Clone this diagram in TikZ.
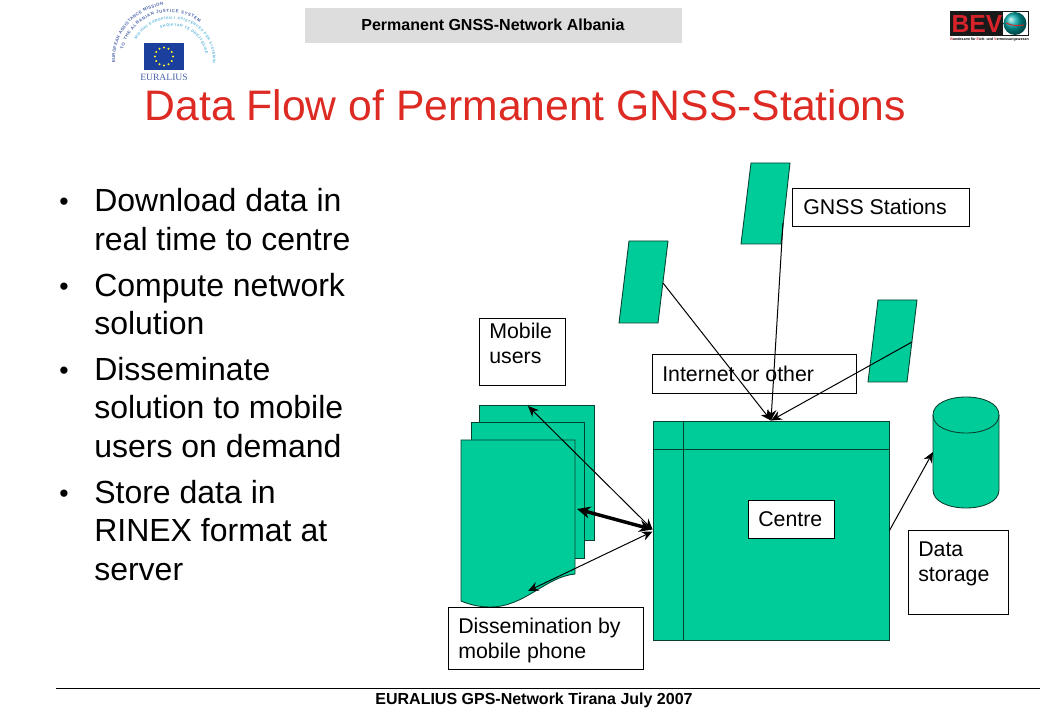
\documentclass[tikz,border=0pt]{standalone}
\usepackage{fontspec}
\setmainfont{Liberation Sans}
\setsansfont{Liberation Sans}
\newfontfamily\logoserif{Liberation Serif}
\usetikzlibrary{arrows.meta,decorations.text,shapes.geometric}
\definecolor{shapegreen}{HTML}{00CC99}
\definecolor{edgegreen}{HTML}{06402F}
\definecolor{titlered}{HTML}{DD2A22}
\definecolor{headgrey}{HTML}{DDDDDD}
\definecolor{eublue}{HTML}{1B3F9C}
\definecolor{logoblue}{HTML}{4A64A8}
\definecolor{logolight}{HTML}{55B5DD}
\definecolor{bevred}{HTML}{D8232A}
\tikzset{
  greenshape/.style={fill=shapegreen,draw=edgegreen,line width=0.65pt},
  whitebox/.style={draw=black,fill=white,line width=0.75pt,inner sep=0pt},
  boxtext/.style={font=\fontsize{16}{18.75}\selectfont,align=left,inner sep=0pt,anchor=west},
  bodytext/.style={font=\fontsize{24}{28.9}\selectfont,align=left,inner sep=0pt,anchor=west},
  bulletmark/.style={font=\fontsize{20}{24}\selectfont,inner sep=0pt},
  hdtext/.style={font=\fontsize{12}{14}\selectfont\bfseries,inner sep=0pt},
  conn/.style={draw=black,line width=0.75pt,-{Stealth[length=8pt,width=7pt]}},
  bothconn/.style={draw=black,line width=0.75pt,{Stealth[length=8pt,width=7pt]}-{Stealth[length=8pt,width=7pt]}},
  thickconn/.style={draw=black,line width=2.6pt,{Stealth[length=10pt,width=9pt]}-{Stealth[length=10pt,width=9pt]}},
  arctext/.style={decoration={text along path,text align={fit to path},text={#1}},decorate}
}
\begin{document}
\begin{tikzpicture}[x=0.75pt,y=-0.75pt]
\useasboundingbox (0,0) rectangle (1040,720);
\fill[white] (0,0) rectangle (1040,720);

% header and footer
\node[fill=headgrey,inner sep=0pt,minimum width={377*0.75pt},minimum height={35*0.75pt}] (headbar) at (493.5,25.5) {};
\node[hdtext] (headtext) at (493,25) {Permanent GNSS-Network Albania};
\coordinate (footleft) at (56,688);
\coordinate (footright) at (1040,688);
\draw[black,line width=0.75pt] (footleft) -- (footright);
\node[hdtext] (foottext) at (534,700) {EURALIUS GPS-Network Tirana July 2007};

% title
\node[font=\fontsize{32}{36}\selectfont,text=titlered,inner sep=0pt,anchor=west] (title) at (144.5,105) {Data Flow of Permanent GNSS-Stations};

% bullets
\node[bulletmark] (b1) at (64,204) {•};
\node[bodytext] (t1) at (94,219.5) {Download data in\\real time to centre};
\node[bulletmark] (b2) at (64,289) {•};
\node[bodytext] (t2) at (94,304) {Compute network\\solution};
\node[bulletmark] (b3) at (64,373) {•};
\node[bodytext] (t3) at (94,407.5) {Disseminate\\solution to mobile\\users on demand};
\node[bulletmark] (b4) at (64,496) {•};
\node[bodytext] (t4) at (94,530.5) {Store data in\\RINEX format at\\server};

% EURALIUS logo
\fill[eublue] (144,43) rectangle (184,70);
\foreach \a in {0,30,...,330}
  \fill[yellow!85!white] ({164+9*cos(\a)},{56.5+9*sin(\a)}) circle[radius=0.9pt];
\node[font=\logoserif\fontsize{7.2}{8}\selectfont,text=logoblue,inner sep=0pt] (euralius) at (164,77) {EURALIUS};
\path[arctext={|\fontsize{3.2}{4}\selectfont\bfseries\color{logoblue}|EUROPEAN ASSISTANCE MISSION}]
  plot[domain=183:97,samples=30,variable=\x] ({170+55*cos(\x)},{60-55*sin(\x)});
\path[arctext={|\fontsize{3.2}{4}\selectfont\bfseries\color{logoblue}|TO THE ALBANIAN JUSTICE SYSTEM}]
  plot[domain=167:52,samples=30,variable=\x] ({170+48*cos(\x)},{60-48*sin(\x)});
\path[arctext={|\fontsize{2.7}{4}\selectfont\bfseries\color{logolight}|MISIONI EUROPIAN I ASISTENCËS PËR SISTEMIN}]
  plot[domain=150:-5,samples=30,variable=\x] ({172+41*cos(\x)},{60-41*sin(\x)});
\path[arctext={|\fontsize{2.7}{4}\selectfont\bfseries\color{logolight}|SHQIPTAR TË DREJTËSISË}]
  plot[domain=110:10,samples=30,variable=\x] ({172+34*cos(\x)},{60-34*sin(\x)});

% BEV logo
\fill[black!90] (950,11) rectangle (1029,36);
\fill[white] (1003,12) rectangle (1028,35);
\shade[ball color=teal!70!cyan] (1015,23.5) circle[radius=8.6pt];
\draw[bevred,line width=0.7pt] (1006,23) .. controls (1012,26) and (1019,26) .. (1024,25);
\node[font=\fontsize{18.5}{20}\selectfont\bfseries,text=bevred,inner sep=0pt] (bevtext) at (977,24) {BEV};
\node[font=\fontsize{2.7}{4}\selectfont\bfseries,inner sep=0pt] (bevsub) at (989.5,39.5) {\textcolor{bevred}{B}undesamt für \textcolor{bevred}{E}ich- und \textcolor{bevred}{V}ermessungswesen};

% documents
\draw[greenshape] (479,405) rectangle (594,540);
\draw[greenshape] (471,422) rectangle (584,558);
\draw[greenshape] (461,440) -- (575,440) -- (575,574)
   .. controls (545,577) and (525,607) .. (490,607)
   .. controls (478,607) and (468,604) .. (461,601) -- cycle;
\coordinate (docback) at (528,406);
\coordinate (docfront) at (577,509);
\coordinate (docwave) at (528,591);

% stations
\draw[greenshape] (751,163) -- (790,163) -- (781,244) -- (741,244) -- cycle;
\draw[greenshape] (629,241) -- (668,241) -- (658,323) -- (619,323) -- cycle;
\draw[greenshape] (878,300) -- (917,300) -- (907,382) -- (868,382) -- cycle;
\coordinate (statop) at (783,223);
\coordinate (staleft) at (663,283);
\coordinate (staright) at (912,342);

% centre
\node[greenshape,inner sep=0pt,minimum width={236*0.75pt},minimum height={219*0.75pt}] (centre) at (771,530.5) {};
\draw[edgegreen,line width=0.65pt] (683,421) -- (683,640);
\draw[edgegreen,line width=0.65pt] (653,449) -- (889,449);
\node[whitebox,minimum width={86*0.75pt},minimum height={37*0.75pt}] (centrebox) at (791,519.5) {};
\node[boxtext] (centretext) at (758,519) {Centre};

% storage
\draw[greenshape] (933,415) .. controls (933,391) and (999,391) .. (999,415) -- (999,490)
   .. controls (999,514) and (933,514) .. (933,490) -- cycle;
\draw[greenshape,fill=none] (933,415) .. controls (933,439) and (999,439) .. (999,415);
\coordinate (storeport) at (933,452);

% label boxes
\node[whitebox,minimum width={177*0.75pt},minimum height={38*0.75pt}] (gnssbox) at (880.5,208) {};
\node[boxtext] (gnsstext) at (803,207) {GNSS Stations};
\node[whitebox,minimum width={204*0.75pt},minimum height={39*0.75pt}] (netbox) at (754,374.5) {};
\node[boxtext] (nettext) at (662,374) {Internet or other};
\node[whitebox,minimum width={86*0.75pt},minimum height={67*0.75pt}] (mobilebox) at (522,352.5) {};
\node[boxtext] (mobiletext) at (489,343.5) {Mobile\\users};
\node[whitebox,minimum width={100*0.75pt},minimum height={84*0.75pt}] (storebox) at (958,572) {};
\node[boxtext] (storetext) at (918,563.5) {Data\\storage};
\node[whitebox,minimum width={195*0.75pt},minimum height={62*0.75pt}] (dissembox) at (546,638) {};
\node[boxtext] (dissemtext) at (458,640.5) {Dissemination by\\mobile phone};

% connectors
\draw[conn] (statop) -- (centre.north);
\draw[conn] (staleft) -- (centre.north);
\draw[conn] (staright) -- (centre.north);
\draw[conn] (centre.east) -- (storeport);
\draw[bothconn] (docback) -- ([yshift=0.75pt]centre.west);
\draw[thickconn] (docfront) -- ([yshift=0.75pt]centre.west);
\draw[bothconn] (docwave) -- ([yshift=-0.75pt]centre.west);
\end{tikzpicture}
\end{document}
